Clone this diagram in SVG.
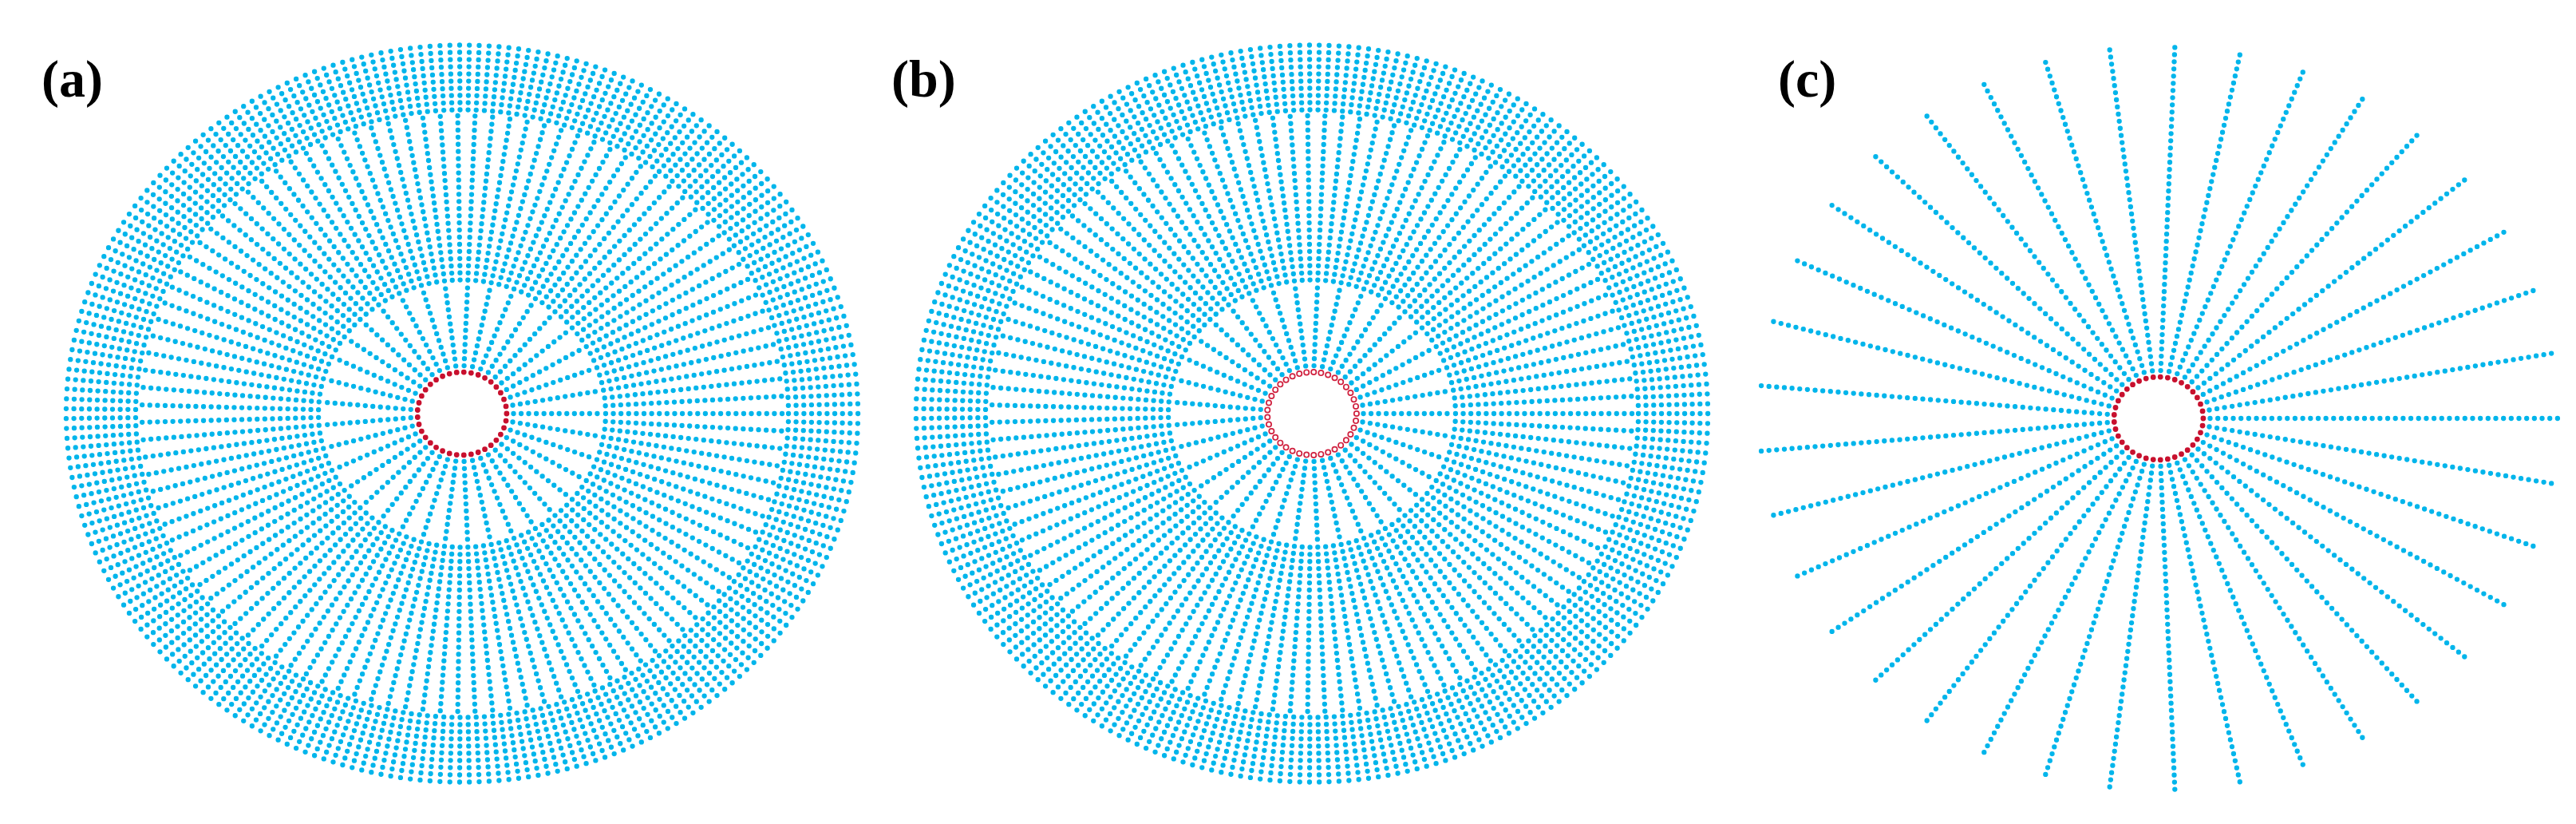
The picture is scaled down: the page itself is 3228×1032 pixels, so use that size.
<svg xmlns="http://www.w3.org/2000/svg" width="3228" height="1032" viewBox="0 0 3228 1032">
<style>
.b{fill:none;stroke:#00b5eb;stroke-width:6.3;stroke-linecap:round;stroke-dasharray:0 1}
.r{fill:none;stroke:#c8102e;stroke-width:6.8;stroke-linecap:round;stroke-dasharray:0 1}
.ro{fill:none;stroke:#d0213f;stroke-width:8;stroke-linecap:round;stroke-dasharray:0 1}
.rw{fill:none;stroke:#ffffff;stroke-width:4.6;stroke-linecap:round;stroke-dasharray:0 1}
.lbl{font-family:"Liberation Serif","Times New Roman",serif;font-weight:bold;font-size:66px;fill:#000}
</style>
<defs>
<g id="disk">
<g id="reg1">
<ellipse class="b" rx="64.5" ry="60" pathLength="37"/>
<ellipse class="b" rx="74.07" ry="68.9" pathLength="37"/>
<ellipse class="b" rx="83.53" ry="77.7" pathLength="37"/>
<ellipse class="b" rx="93.1" ry="86.6" pathLength="37"/>
<ellipse class="b" rx="102.66" ry="95.5" pathLength="37"/>
<ellipse class="b" rx="112.23" ry="104.4" pathLength="37"/>
<ellipse class="b" rx="121.69" ry="113.2" pathLength="37"/>
<ellipse class="b" rx="131.26" ry="122.1" pathLength="37"/>
<ellipse class="b" rx="140.83" ry="131" pathLength="37"/>
<ellipse class="b" rx="150.29" ry="139.8" pathLength="37"/>
<ellipse class="b" rx="159.85" ry="148.7" pathLength="37"/>
<ellipse class="b" rx="169.42" ry="157.6" pathLength="37"/>
</g>
<g id="reg2">
<ellipse class="b" rx="179.96" ry="167.4" pathLength="111"/>
<ellipse class="b" rx="189.57" ry="176.34" pathLength="111"/>
<ellipse class="b" rx="199.18" ry="185.28" pathLength="111"/>
<ellipse class="b" rx="208.79" ry="194.22" pathLength="111"/>
<ellipse class="b" rx="218.40" ry="203.16" pathLength="111"/>
<ellipse class="b" rx="228.01" ry="212.10" pathLength="111"/>
<ellipse class="b" rx="237.62" ry="221.04" pathLength="111"/>
<ellipse class="b" rx="247.23" ry="229.98" pathLength="111"/>
<ellipse class="b" rx="256.84" ry="238.92" pathLength="111"/>
<ellipse class="b" rx="266.45" ry="247.86" pathLength="111"/>
<ellipse class="b" rx="276.06" ry="256.80" pathLength="111"/>
<ellipse class="b" rx="285.67" ry="265.74" pathLength="111"/>
<ellipse class="b" rx="295.28" ry="274.68" pathLength="111"/>
<ellipse class="b" rx="304.89" ry="283.62" pathLength="111"/>
<ellipse class="b" rx="314.50" ry="292.56" pathLength="111"/>
<ellipse class="b" rx="324.11" ry="301.50" pathLength="111"/>
<ellipse class="b" rx="333.72" ry="310.44" pathLength="111"/>
<ellipse class="b" rx="343.33" ry="319.38" pathLength="111"/>
<ellipse class="b" rx="352.94" ry="328.32" pathLength="111"/>
<ellipse class="b" rx="362.55" ry="337.26" pathLength="111"/>
<ellipse class="b" rx="372.17" ry="346.20" pathLength="111"/>
<ellipse class="b" rx="381.78" ry="355.14" pathLength="111"/>
<ellipse class="b" rx="391.39" ry="364.08" pathLength="111"/>
<ellipse class="b" rx="401.0" ry="373.02" pathLength="111"/>
</g>
<g id="reg3">
<ellipse class="b" rx="409.04" ry="380.5" pathLength="243"/>
<ellipse class="b" rx="418.71" ry="389.5" pathLength="243"/>
<ellipse class="b" rx="428.39" ry="398.5" pathLength="243"/>
<ellipse class="b" rx="438.06" ry="407.5" pathLength="243"/>
<ellipse class="b" rx="447.74" ry="416.5" pathLength="243"/>
<ellipse class="b" rx="457.41" ry="425.5" pathLength="243"/>
<ellipse class="b" rx="467.09" ry="434.5" pathLength="243"/>
<ellipse class="b" rx="476.76" ry="443.5" pathLength="243"/>
<ellipse class="b" rx="486.44" ry="452.5" pathLength="243"/>
<ellipse class="b" rx="496.11" ry="461.5" pathLength="243"/>
</g>
</g>
</defs>

<g id="panel-a">
<text class="lbl" x="52" y="121">(a)</text>
<use href="#disk" x="579" y="518"/>
<ellipse class="r" cx="579" cy="518" rx="55.9" ry="52" pathLength="37"/>
</g>

<g id="panel-b">
<text class="lbl" x="1117" y="121">(b)</text>
<use href="#disk" x="1644" y="518"/>
<ellipse class="ro" cx="1644" cy="518" rx="55.9" ry="52" pathLength="37"/>
<ellipse class="rw" cx="1644" cy="518" rx="55.9" ry="52" pathLength="37"/>
</g>

<g id="panel-c">
<text class="lbl" x="2228" y="121">(c)</text>
<g transform="translate(2705 524)">
<ellipse class="b" rx="64.5" ry="60" pathLength="37"/>
<ellipse class="b" rx="74.18" ry="69" pathLength="37"/>
<ellipse class="b" rx="83.85" ry="78" pathLength="37"/>
<ellipse class="b" rx="93.53" ry="87" pathLength="37"/>
<ellipse class="b" rx="103.2" ry="96" pathLength="37"/>
<ellipse class="b" rx="112.88" ry="105" pathLength="37"/>
<ellipse class="b" rx="122.55" ry="114" pathLength="37"/>
<ellipse class="b" rx="132.23" ry="123" pathLength="37"/>
<ellipse class="b" rx="141.9" ry="132" pathLength="37"/>
<ellipse class="b" rx="151.58" ry="141" pathLength="37"/>
<ellipse class="b" rx="161.25" ry="150" pathLength="37"/>
<ellipse class="b" rx="170.93" ry="159" pathLength="37"/>
<ellipse class="b" rx="180.6" ry="168" pathLength="37"/>
<ellipse class="b" rx="190.28" ry="177" pathLength="37"/>
<ellipse class="b" rx="199.95" ry="186" pathLength="37"/>
<ellipse class="b" rx="209.63" ry="195" pathLength="37"/>
<ellipse class="b" rx="219.3" ry="204" pathLength="37"/>
<ellipse class="b" rx="228.98" ry="213" pathLength="37"/>
<ellipse class="b" rx="238.65" ry="222" pathLength="37"/>
<ellipse class="b" rx="248.33" ry="231" pathLength="37"/>
<ellipse class="b" rx="258" ry="240" pathLength="37"/>
<ellipse class="b" rx="267.68" ry="249" pathLength="37"/>
<ellipse class="b" rx="277.35" ry="258" pathLength="37"/>
<ellipse class="b" rx="287.03" ry="267" pathLength="37"/>
<ellipse class="b" rx="296.7" ry="276" pathLength="37"/>
<ellipse class="b" rx="306.38" ry="285" pathLength="37"/>
<ellipse class="b" rx="316.05" ry="294" pathLength="37"/>
<ellipse class="b" rx="325.73" ry="303" pathLength="37"/>
<ellipse class="b" rx="335.4" ry="312" pathLength="37"/>
<ellipse class="b" rx="345.08" ry="321" pathLength="37"/>
<ellipse class="b" rx="354.75" ry="330" pathLength="37"/>
<ellipse class="b" rx="364.43" ry="339" pathLength="37"/>
<ellipse class="b" rx="374.1" ry="348" pathLength="37"/>
<ellipse class="b" rx="383.78" ry="357" pathLength="37"/>
<ellipse class="b" rx="393.45" ry="366" pathLength="37"/>
<ellipse class="b" rx="403.13" ry="375" pathLength="37"/>
<ellipse class="b" rx="412.8" ry="384" pathLength="37"/>
<ellipse class="b" rx="422.48" ry="393" pathLength="37"/>
<ellipse class="b" rx="432.15" ry="402" pathLength="37"/>
<ellipse class="b" rx="441.83" ry="411" pathLength="37"/>
<ellipse class="b" rx="451.5" ry="420" pathLength="37"/>
<ellipse class="b" rx="461.18" ry="429" pathLength="37"/>
<ellipse class="b" rx="470.85" ry="438" pathLength="37"/>
<ellipse class="b" rx="480.53" ry="447" pathLength="37"/>
<ellipse class="b" rx="490.2" ry="456" pathLength="37"/>
<ellipse class="b" rx="499.88" ry="465" pathLength="37"/>
<ellipse class="r" rx="55.9" ry="52" pathLength="37"/>
</g>
</g>
</svg>
